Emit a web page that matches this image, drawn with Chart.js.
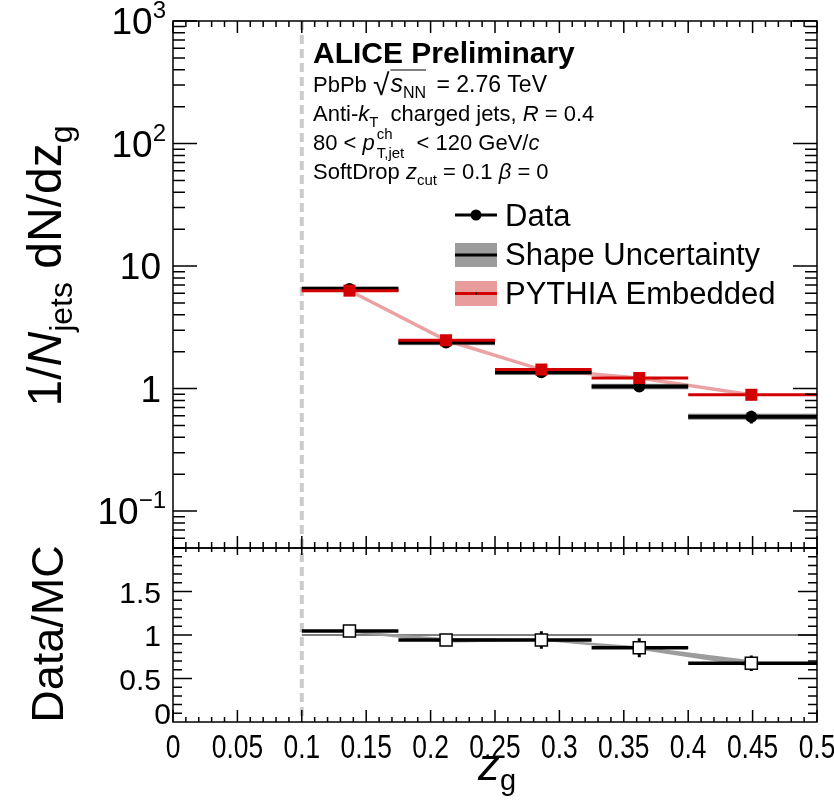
<!DOCTYPE html>
<html>
<head>
<meta charset="utf-8">
<script src="https://cdn.jsdelivr.net/npm/chart.js@4.4.1/dist/chart.umd.min.js"></script>
<style>
  html, body { margin: 0; padding: 0; background: #fff; }
  #wrap { position: relative; width: 834px; height: 800px; }
</style>
</head>
<body>
<div id="wrap"><canvas id="zg" width="834" height="800"></canvas></div>
<script>
// z_g bins
const binEdges = [0.1, 0.175, 0.25, 0.325, 0.4, 0.5];
const binCenters = [0.137, 0.212, 0.286, 0.362, 0.449];

// 1/N dN/dz_g
const dataVals = [6.5, 2.38, 1.36, 1.04, 0.59];
const dataStatErr = [0.12, 0.05, 0.04, 0.07, 0.07];
const dataShapeErr = [0.35, 0.12, 0.07, 0.055, 0.035];
const pythiaVals = [6.3, 2.48, 1.43, 1.22, 0.89];
const pythiaErr = [0.22, 0.09, 0.045, 0.04, 0.03];

// Data/MC
const ratioVals = [1.046, 0.943, 0.943, 0.854, 0.675];
const ratioErr = [0.02, 0.04, 0.1, 0.11, 0.09];
const ratioShapeLow = [1.03, 0.91, 0.935, 0.83, 0.635];
const ratioShapeHigh = [1.05, 0.965, 0.955, 0.87, 0.71];

const zCut = 0.1;
const xTicks = [0, 0.05, 0.1, 0.15, 0.2, 0.25, 0.3, 0.35, 0.4, 0.45, 0.5];
const xTickLabels = ["0", "0.05", "0.1", "0.15", "0.2", "0.25", "0.3", "0.35", "0.4", "0.45", "0.5"];
const yTicksMain = [0.1, 1, 10, 100, 1000];
const yTickLabelsMain = [["10", "\u22121"], ["1", ""], ["10", ""], ["10", "2"], ["10", "3"]];
const yTicksRatio = [0, 0.5, 1, 1.5];
const yTickLabelsRatio = ["0", "0.5", "1", "1.5"];

const RED = "#d20000";
const PINK = "rgba(225,110,110,0.65)";
const GRAY = "#9c9c9c";
const FONT = '"Liberation Sans", Arial, Helvetica, sans-serif';

function binSegments(vals) {
  const pts = [];
  vals.forEach((v, i) => {
    pts.push({ x: binEdges[i], y: v }, { x: binEdges[i + 1], y: v }, { x: binEdges[i + 1], y: null });
  });
  return pts;
}
function errSegments(vals, errs) {
  const pts = [];
  vals.forEach((v, i) => {
    pts.push({ x: binCenters[i], y: v - errs[i] }, { x: binCenters[i], y: v + errs[i] }, { x: binCenters[i], y: null });
  });
  return pts;
}
const centerPts = (vals) => vals.map((v, i) => ({ x: binCenters[i], y: v }));

function seg(label, data, yAxisID, color, width, order, extra = {}) {
  return Object.assign({
    label, data, yAxisID, order,
    borderColor: color, backgroundColor: color, borderWidth: width,
    pointRadius: 0, tension: 0, spanGaps: false, fill: false, borderCapStyle: "butt",
  }, extra);
}

function fnt(p) {
  return (p.it ? "italic " : "") + (p.b ? "bold " : "") + p.s + "px " + FONT;
}
function richWidth(ctx, parts) {
  let w = 0;
  for (const p of parts) {
    ctx.font = fnt(p);
    if (p.adv !== false) w += ctx.measureText(p.t).width + (p.dx || 0);
  }
  return w;
}
function drawRich(ctx, parts, x, y, align) {
  const w = richWidth(ctx, parts);
  let cx = align === "right" ? x - w : align === "center" ? x - w / 2 : x;
  let markX = null;
  ctx.textAlign = "left";
  ctx.textBaseline = "alphabetic";
  for (const p of parts) {
    ctx.font = fnt(p);
    const pw = ctx.measureText(p.t).width;
    ctx.fillText(p.t, cx, y + (p.dy || 0));
    if (p.mark === "start") markX = cx;
    if (p.mark === "end" && markX !== null) {
      ctx.save();
      ctx.lineWidth = 1.2;
      ctx.beginPath();
      ctx.moveTo(markX, y - p.overY);
      ctx.lineTo(cx + pw, y - p.overY);
      ctx.stroke();
      ctx.restore();
    }
    if (p.adv !== false) cx += pw + (p.dx || 0);
  }
}

const alicePlugin = {
  id: "alice",
  beforeDatasetsDraw(chart) {
    const { ctx } = chart;
    const { x, y, y2 } = chart.scales;
    ctx.save();
    // dashed z_cut line through both panels
    ctx.strokeStyle = "#cbcbcb";
    ctx.lineWidth = 4;
    ctx.setLineDash([9, 5]);
    ctx.beginPath();
    ctx.moveTo(x.getPixelForValue(zCut), y.top);
    ctx.lineTo(x.getPixelForValue(zCut), y2.bottom);
    ctx.stroke();
    ctx.setLineDash([]);
    // shape uncertainty boxes of the data
    ctx.fillStyle = GRAY;
    dataVals.forEach((v, i) => {
      const x0 = x.getPixelForValue(binEdges[i]);
      const x1 = x.getPixelForValue(binEdges[i + 1]);
      const yt = y.getPixelForValue(v + dataShapeErr[i]);
      const yb = y.getPixelForValue(v - dataShapeErr[i]);
      ctx.fillRect(x0, yt, x1 - x0, yb - yt);
    });
    ctx.restore();
  },
  afterDraw(chart) {
    const { ctx } = chart;
    const { x, y, y2 } = chart.scales;
    ctx.save();
    ctx.strokeStyle = "#000";
    ctx.fillStyle = "#000";
    ctx.lineWidth = 1.5;

    // frames
    ctx.strokeRect(x.left, y.top, x.right - x.left, y.bottom - y.top);
    ctx.strokeRect(x.left, y2.top, x.right - x.left, y2.bottom - y2.top);

    ctx.beginPath();
    // x ticks on both panels
    for (let i = 0; i <= 50; i++) {
      const px = x.getPixelForValue(i / 100);
      const major = i % 5 === 0;
      const lm = major ? 12 : 6;
      ctx.moveTo(px, y.top); ctx.lineTo(px, y.top + lm);
      ctx.moveTo(px, y.bottom); ctx.lineTo(px, y.bottom - lm);
      ctx.moveTo(px, y2.top); ctx.lineTo(px, y2.top + (major ? 7 : 4));
      ctx.moveTo(px, y2.bottom); ctx.lineTo(px, y2.bottom - (major ? 12 : 5));
    }
    // log y ticks, main panel
    for (let d = -2; d <= 3; d++) {
      for (let k = 1; k <= 9; k++) {
        const v = k * Math.pow(10, d);
        if (v < 0.0499 || v > 1000.1) continue;
        const py = y.getPixelForValue(v);
        const l = k === 1 ? 24 : 12;
        ctx.moveTo(x.left, py); ctx.lineTo(x.left + l, py);
        ctx.moveTo(x.right, py); ctx.lineTo(x.right - l, py);
      }
    }
    // linear y ticks, ratio panel
    for (let i = 1; i < 20; i++) {
      const py = y2.getPixelForValue(i / 10);
      const l = i % 5 === 0 ? 19 : 9;
      ctx.moveTo(x.left, py); ctx.lineTo(x.left + l, py);
      ctx.moveTo(x.right, py); ctx.lineTo(x.right - l, py);
    }
    ctx.stroke();

    // tick labels
    yTicksMain.forEach((v, i) => {
      const py = y.getPixelForValue(v);
      const [base, sup] = yTickLabelsMain[i];
      const parts = [{ t: base, s: 37 }];
      if (sup) parts.push({ t: sup, s: 24, dy: -16 });
      drawRich(ctx, parts, sup ? 166 : 161, py + 13, "right");
    });
    yTicksRatio.forEach((v, i) => {
      const py = y2.getPixelForValue(v);
      if (v === 0) drawRich(ctx, [{ t: yTickLabelsRatio[i], s: 30 }], 171, py + 2, "right");
      else drawRich(ctx, [{ t: yTickLabelsRatio[i], s: 30 }], 161, py + 11, "right");
    });
    xTicks.forEach((v, i) => {
      const px = x.getPixelForValue(v);
      ctx.save();
      ctx.translate(px, 758);
      ctx.scale(0.8, 1);
      drawRich(ctx, [{ t: xTickLabels[i], s: 33 }], 0, 0, "center");
      ctx.restore();
    });

    // axis titles
    drawRich(ctx, [{ t: "z", s: 44, it: true }, { t: "g", s: 29, dy: 10 }], 497, 780, "center");
    ctx.save();
    ctx.translate(61, 266);
    ctx.rotate(-Math.PI / 2);
    drawRich(ctx, [
      { t: "1/", s: 48 }, { t: "N", s: 48, it: true }, { t: "jets", s: 32, dy: 11 },
      { t: " dN/dz", s: 48 }, { t: "g", s: 32, dy: 11 },
    ], 0, 0, "center");
    ctx.restore();
    ctx.save();
    ctx.translate(63, 634);
    ctx.rotate(-Math.PI / 2);
    drawRich(ctx, [{ t: "Data/MC", s: 45 }], 0, 0, "center");
    ctx.restore();

    // header text
    const tx = 313;
    drawRich(ctx, [{ t: "ALICE Preliminary", s: 30, b: true }], tx, 63, "left");
    drawRich(ctx, [
      { t: "PbPb ", s: 22 }, { t: "\u221A", s: 30, dy: 3, dx: 1 },
      { t: "s", s: 25, it: true, mark: "start" }, { t: "NN", s: 16, dy: 6, mark: "end", overY: 22, dx: 4 },
      { t: " = 2.76 TeV", s: 23 },
    ], tx, 92, "left");
    drawRich(ctx, [
      { t: "Anti-", s: 22 }, { t: "k", s: 22, it: true }, { t: "T", s: 15, dy: 6 },
      { t: "  charged jets, ", s: 22 }, { t: "R", s: 22, it: true }, { t: " = 0.4", s: 22 },
    ], tx, 121, "left");
    drawRich(ctx, [
      { t: "80 < ", s: 22 }, { t: "p", s: 22, it: true, dx: 2 },
      { t: "ch", s: 15, dy: -11, adv: false }, { t: "T,jet", s: 15, dy: 8 },
      { t: "  < 120 GeV/", s: 22 }, { t: "c", s: 22, it: true },
    ], tx, 150, "left");
    drawRich(ctx, [
      { t: "SoftDrop ", s: 22 }, { t: "z", s: 22, it: true }, { t: "cut", s: 15, dy: 6 },
      { t: " = 0.1 ", s: 22 }, { t: "\u03B2", s: 22, it: true }, { t: " = 0", s: 22 },
    ], tx, 179, "left");

    // legend
    const lx0 = 455, lx1 = 497;
    ctx.lineWidth = 3;
    ctx.beginPath();
    ctx.moveTo(lx0, 215); ctx.lineTo(lx1, 215); ctx.stroke();
    ctx.beginPath(); ctx.arc((lx0 + lx1) / 2, 215, 5.5, 0, Math.PI * 2); ctx.fill();
    ctx.fillStyle = GRAY;
    ctx.fillRect(lx0, 243, lx1 - lx0, 24);
    ctx.beginPath(); ctx.moveTo(lx0, 255); ctx.lineTo(lx1, 255); ctx.stroke();
    ctx.fillStyle = "#e89c9c";
    ctx.fillRect(lx0, 281, lx1 - lx0, 25);
    ctx.strokeStyle = RED;
    ctx.beginPath(); ctx.moveTo(lx0, 293.5); ctx.lineTo(lx1, 293.5); ctx.stroke();
    ctx.fillStyle = "#000";
    ctx.fillRect((lx0 + lx1) / 2 - 1, 292.5, 2, 2);
    drawRich(ctx, [{ t: "Data", s: 31 }], 505, 226, "left");
    drawRich(ctx, [{ t: "Shape Uncertainty", s: 31 }], 505, 265, "left");
    drawRich(ctx, [{ t: "PYTHIA Embedded", s: 31 }], 505, 304, "left");

    ctx.restore();
  },
};

const datasets = [
  // main panel
  seg("PYTHIA markers", centerPts(pythiaVals), "y", RED, 0, 0, {
    showLine: false, pointStyle: "rect", pointRadius: 8.5, pointBackgroundColor: RED, pointBorderWidth: 0,
  }),
  seg("PYTHIA bins", binSegments(pythiaVals), "y", RED, 3, 1),
  seg("Data markers", centerPts(dataVals), "y", "#000", 0, 2, {
    showLine: false, pointStyle: "circle", pointRadius: 6, pointBackgroundColor: "#000", pointBorderWidth: 0,
  }),
  seg("Data stat", errSegments(dataVals, dataStatErr), "y", "#000", 3, 3),
  seg("Data bins", binSegments(dataVals), "y", "#000", 4, 4),
  seg("PYTHIA band low", centerPts(pythiaVals.map((v, i) => v - pythiaErr[i])), "y", PINK, 0, 6),
  seg("PYTHIA band high", centerPts(pythiaVals.map((v, i) => v + pythiaErr[i])), "y", PINK, 0, 5, {
    fill: "-1", backgroundColor: PINK,
  }),
  // ratio panel
  seg("Ratio markers", centerPts(ratioVals), "y2", "#000", 0, 0, {
    showLine: false, pointStyle: "rect", pointRadius: 8.5, pointBackgroundColor: "#fff",
    pointBorderColor: "#000", pointBorderWidth: 1.5,
  }),
  seg("Ratio stat", errSegments(ratioVals, ratioErr), "y2", "#000", 3, 1),
  seg("Ratio bins", binSegments(ratioVals), "y2", "#000", 3.5, 2),
  seg("Ratio shape low", centerPts(ratioShapeLow), "y2", GRAY, 0, 4),
  seg("Ratio shape high", centerPts(ratioShapeHigh), "y2", GRAY, 0, 3, {
    fill: "-1", backgroundColor: GRAY,
  }),
  seg("Unity", [{ x: zCut, y: 1 }, { x: 0.5, y: 1 }], "y2", "#000", 1.2, 5),
];

const hidden = { display: false };
new Chart(document.getElementById("zg"), {
  type: "line",
  data: { datasets },
  options: {
    responsive: false,
    animation: false,
    devicePixelRatio: 1,
    layout: { padding: { left: 0, right: 17, top: 21, bottom: 0 } },
    plugins: { legend: { display: false }, tooltip: { enabled: false } },
    scales: {
      x: {
        type: "linear", min: 0, max: 0.5, position: "bottom",
        ticks: hidden, grid: hidden, border: hidden,
        afterFit: (s) => { s.height = 78; },
      },
      // stacked panels: the later axis in the stack is placed on top
      y2: {
        type: "linear", min: 0, max: 2, position: "left",
        stack: "panels", stackWeight: 174,
        ticks: hidden, grid: hidden, border: hidden,
        afterFit: (s) => { s.width = 173; },
      },
      y: {
        type: "logarithmic", min: 0.05, max: 1000, position: "left",
        stack: "panels", stackWeight: 527,
        ticks: hidden, grid: hidden, border: hidden,
        afterFit: (s) => { s.width = 173; },
      },
    },
  },
  plugins: [alicePlugin],
});
</script>
</body>
</html>
